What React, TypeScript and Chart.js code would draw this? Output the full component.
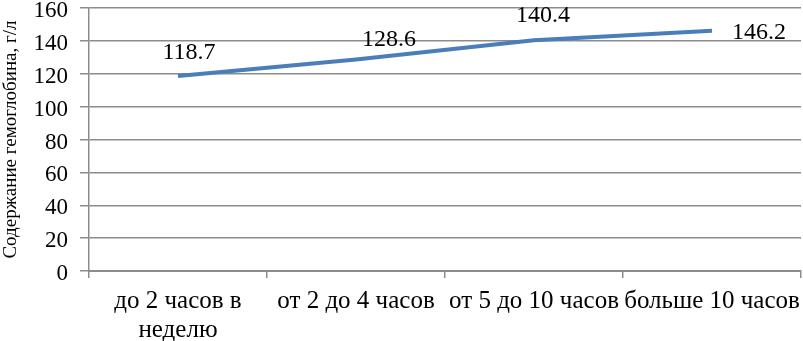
import React, { useEffect, useRef } from "react";
import { Chart, registerables } from "chart.js";

Chart.register(...registerables);

const categories: (string | string[])[] = [
  ["до 2 часов в", "неделю"],
  "от 2 до 4 часов",
  "от 5 до 10 часов",
  "больше 10 часов",
];
const hemoglobin = [118.7, 128.6, 140.4, 146.2];
const yTicks = [0, 20, 40, 60, 80, 100, 120, 140, 160];
const yTitle = "Содержание гемоглобина, г/л";

// label placement offsets relative to each point (style only)
const labelOffsets = [
  [11, -23],
  [33, -20],
  [9, -25],
  [47, 2],
];

const FONT = "'Liberation Serif', 'Times New Roman', serif";

const labelPlugin = {
  id: "valueLabels",
  afterDatasetsDraw(chart: any) {
    const ctx = chart.ctx;
    const meta = chart.getDatasetMeta(0);
    ctx.save();
    ctx.font = `24px ${FONT}`;
    ctx.fillStyle = "#000";
    ctx.textAlign = "center";
    ctx.textBaseline = "middle";
    meta.data.forEach((pt: any, i: number) => {
      const [dx, dy] = labelOffsets[i];
      ctx.fillText(hemoglobin[i].toFixed(1), pt.x + dx, pt.y + dy);
    });
    ctx.restore();
  },
};

export default function App() {
  const ref = useRef<HTMLCanvasElement>(null);
  useEffect(() => {
    document.body.style.margin = "0";
    const chart = new Chart(ref.current!, {
      type: "line",
      data: {
        labels: categories,
        datasets: [
          {
            data: hemoglobin,
            borderColor: "#4a7ebb",
            borderWidth: 4,
            pointRadius: 0,
            tension: 0,
            fill: false,
          },
        ],
      },
      options: {
        animation: false,
        responsive: false,
        layout: { padding: { top: 8, right: 2, left: 0, bottom: 0 } },
        plugins: { legend: { display: false }, tooltip: { enabled: false } },
        scales: {
          x: {
            offset: true,
            grid: {
              offset: true,
              drawOnChartArea: false,
              drawTicks: true,
              tickLength: 7,
              color: "#8c8c8c",
              lineWidth: 1.5,
            },
            border: { color: "#8c8c8c", width: 2 },
            ticks: {
              color: "#000",
              font: { family: FONT, size: 25, lineHeight: 1.15 },
              maxRotation: 0,
              autoSkip: false,
              padding: 9,
            },
            afterFit(scale: any) {
              scale.height = 70;
              scale.paddingLeft = 0;
              scale.paddingRight = 0;
            },
          },
          y: {
            min: 0,
            max: 160,
            afterBuildTicks(scale: any) {
              scale.ticks = yTicks.map((v) => ({ value: v }));
            },
            grid: {
              color: "#8c8c8c",
              lineWidth: 1.5,
              tickLength: 9,
            },
            border: { color: "#8c8c8c", width: 1.5 },
            ticks: {
              color: "#000",
              font: { family: FONT, size: 23 },
              padding: 12,
              labelOffset: 3,
            },
            title: {
              display: true,
              text: yTitle,
              color: "#000",
              font: { family: FONT, size: 19 },
              padding: { top: 0, bottom: 0 },
            },
            afterFit(scale: any) {
              scale.width = 89;
              scale.paddingTop = 0;
              scale.paddingBottom = 0;
            },
          },
        },
      },
      plugins: [labelPlugin],
    });
    return () => chart.destroy();
  }, []);
  return <canvas ref={ref} width={803} height={341} style={{ display: "block" }} />;
}
